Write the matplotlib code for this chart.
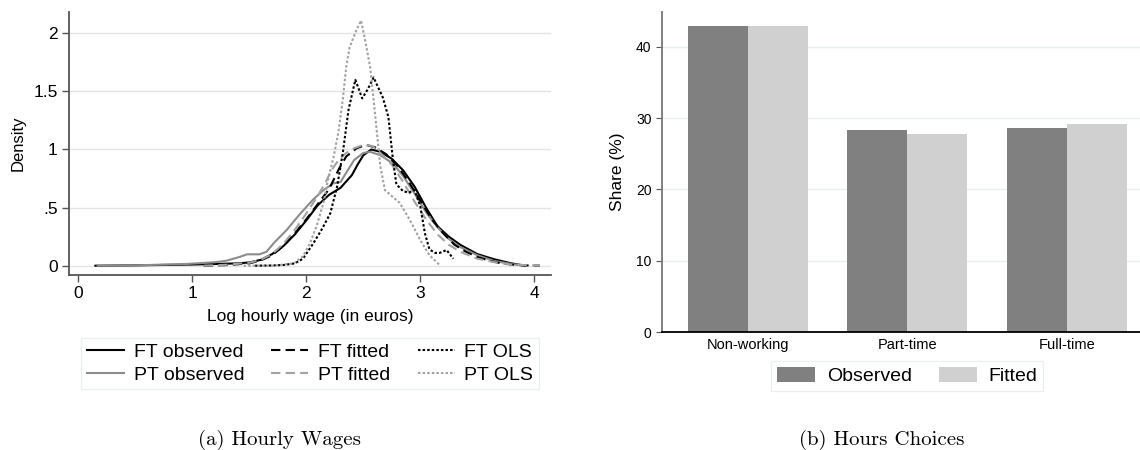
import matplotlib
matplotlib.use("Agg")
import matplotlib.pyplot as plt
import numpy as np

plt.rcParams['font.family'] = ['Liberation Sans', 'DejaVu Sans']

# --- (a) density of log hourly wages ---
ft_obs_x = [0.15, 0.5, 1.0, 1.2, 1.4, 1.5, 1.6, 1.7, 1.8, 1.9, 2.0, 2.1, 2.2, 2.3, 2.4, 2.45,
            2.5, 2.57, 2.65, 2.75, 2.85, 2.95, 3.05, 3.15, 3.25, 3.35, 3.5, 3.65, 3.8, 3.92]
ft_obs_y = [0.0, 0.003, 0.01, 0.015, 0.02, 0.028, 0.05, 0.1, 0.17, 0.27, 0.39, 0.52, 0.61, 0.67, 0.78, 0.87,
            0.95, 1.0, 0.98, 0.92, 0.82, 0.68, 0.5, 0.34, 0.25, 0.18, 0.1, 0.055, 0.02, 0.0]

pt_obs_x = [0.17, 0.5, 0.95, 1.2, 1.3, 1.42, 1.48, 1.59, 1.65, 1.72, 1.83, 1.94, 2.06, 2.15, 2.24, 2.3,
            2.35, 2.42, 2.5, 2.56, 2.65, 2.76, 2.85, 2.95, 3.05, 3.15, 3.25, 3.35, 3.5, 3.65, 3.8, 3.92]
pt_obs_y = [0.0, 0.003, 0.015, 0.03, 0.043, 0.077, 0.098, 0.098, 0.12, 0.2, 0.31, 0.44, 0.57, 0.65, 0.71, 0.72,
            0.8, 0.91, 0.97, 0.98, 0.95, 0.88, 0.77, 0.62, 0.46, 0.33, 0.23, 0.16, 0.09, 0.04, 0.015, 0.0]

ft_fit_x = [1.1, 1.3, 1.5, 1.6, 1.7, 1.8, 1.9, 2.0, 2.1, 2.2, 2.29, 2.35, 2.44, 2.52, 2.6, 2.7,
            2.8, 2.9, 3.0, 3.1, 3.2, 3.3, 3.4, 3.5, 3.6, 3.7, 3.8, 3.9, 4.05]
ft_fit_y = [0.0, 0.005, 0.02, 0.045, 0.09, 0.17, 0.28, 0.40, 0.53, 0.66, 0.84, 0.94, 1.01, 1.04, 1.02, 0.96,
            0.86, 0.72, 0.56, 0.4, 0.28, 0.18, 0.12, 0.075, 0.045, 0.022, 0.01, 0.003, 0.0]

pt_fit_x = [1.1, 1.3, 1.5, 1.6, 1.7, 1.8, 1.9, 2.0, 2.1, 2.17, 2.22, 2.29, 2.35, 2.42, 2.5, 2.58,
            2.65, 2.75, 2.85, 2.95, 3.05, 3.15, 3.25, 3.35, 3.5, 3.65, 3.8, 4.05]
pt_fit_y = [0.0, 0.008, 0.025, 0.05, 0.1, 0.19, 0.31, 0.45, 0.6, 0.72, 0.82, 0.92, 0.97, 1.01, 1.04, 1.03,
            0.97, 0.87, 0.72, 0.55, 0.4, 0.27, 0.18, 0.12, 0.06, 0.03, 0.01, 0.0]

ft_ols_x = [1.55, 1.7, 1.8, 1.9, 1.97, 2.06, 2.14, 2.21, 2.27, 2.32, 2.37, 2.43, 2.49, 2.54, 2.59,
            2.67, 2.72, 2.76, 2.79, 2.85, 2.9, 2.95, 3.0, 3.04, 3.08, 3.13, 3.17, 3.23, 3.29]
ft_ols_y = [0.0, 0.002, 0.006, 0.02, 0.06, 0.19, 0.32, 0.45, 0.68, 0.97, 1.34, 1.6, 1.44, 1.52, 1.62,
            1.45, 1.28, 0.91, 0.7, 0.64, 0.63, 0.65, 0.51, 0.28, 0.14, 0.11, 0.11, 0.135, 0.06]

pt_ols_x = [1.45, 1.71, 1.89, 1.97, 2.03, 2.09, 2.15, 2.19, 2.24, 2.28, 2.32, 2.35, 2.38, 2.44, 2.48,
            2.51, 2.56, 2.59, 2.62, 2.65, 2.69, 2.76, 2.82, 2.91, 3.0, 3.08, 3.17]
pt_ols_y = [0.0, 0.0, 0.02, 0.08, 0.19, 0.34, 0.54, 0.74, 0.94, 1.14, 1.43, 1.71, 1.88, 2.03, 2.11,
            1.97, 1.71, 1.43, 1.14, 0.85, 0.65, 0.59, 0.54, 0.39, 0.22, 0.09, 0.006]

# --- (b) hours choices ---
categories = ["Non-working", "Part-time", "Full-time"]
observed = [42.9, 28.3, 28.6]
fitted = [42.9, 27.8, 29.2]

fig = plt.figure(figsize=(11.4, 4.5), dpi=100)

ax1 = fig.add_axes([0.0605, 0.3889, 0.4228, 0.5844])
ax1.plot(ft_obs_x, ft_obs_y, color="black", lw=1.5, label="FT observed")
ax1.plot(pt_obs_x, pt_obs_y, color="#8c8c8c", lw=1.5, label="PT observed")
ax1.plot(ft_fit_x, ft_fit_y, color="black", lw=1.5, dashes=(4.5, 2.5), label="FT fitted")
ax1.plot(pt_fit_x, pt_fit_y, color="#a2a2a2", lw=1.5, dashes=(4.5, 2.5), label="PT fitted")
ax1.plot(ft_ols_x, ft_ols_y, color="black", lw=1.5, dashes=(1.2, 1.0), label="FT OLS")
ax1.plot(pt_ols_x, pt_ols_y, color="#a2a2a2", lw=1.5, dashes=(1.2, 1.0), label="PT OLS")

ax1.set_xlim(-0.082, 4.146)
ax1.set_ylim(-0.08, 2.183)
ax1.set_xticks([0, 1, 2, 3, 4])
ax1.set_yticks([0, 0.5, 1, 1.5, 2], ["0", ".5", "1", "1.5", "2"])
ax1.grid(axis="y", color="#e4e4e4", lw=1)
ax1.set_axisbelow(True)
ax1.set_xlabel("Log hourly wage (in euros)", fontsize=12.5, labelpad=6)
ax1.set_ylabel("Density", fontsize=12, labelpad=6)
for s in ["top", "right"]:
    ax1.spines[s].set_visible(False)
for s in ["left", "bottom"]:
    ax1.spines[s].set_color("#555555")
    ax1.spines[s].set_linewidth(1.3)
ax1.tick_params(labelsize=12.5, length=5, width=1, color="#555555", pad=3)

h, l = ax1.get_legend_handles_labels()
leg1 = fig.legend(h, l, ncol=3, loc="center", bbox_to_anchor=(0.272, 0.192), fontsize=14,
                  frameon=True, fancybox=False, edgecolor="#e6ecec", handlelength=1.9,
                  handletextpad=0.5, columnspacing=1.4, labelspacing=0.25, borderpad=0.3)
leg1.get_frame().set_linewidth(1)

ax2 = fig.add_axes([0.5807, 0.2622, 0.4193, 0.7111])
pos = np.arange(len(categories))
w = 0.376
ax2.bar(pos - w / 2, observed, width=w, color="#808080", label="Observed")
ax2.bar(pos + w / 2, fitted, width=w, color="#d0d0d0", label="Fitted")
ax2.set_xlim(-0.539, 2.458)
ax2.set_ylim(0, 44.9)
ax2.set_yticks([0, 10, 20, 30, 40])
ax2.set_xticks(pos, categories)
ax2.grid(axis="y", color="#e8eeee", lw=1)
ax2.set_axisbelow(True)
ax2.set_ylabel("Share (%)", fontsize=12.5, labelpad=8)
for s in ["top", "right"]:
    ax2.spines[s].set_visible(False)
ax2.spines["left"].set_color("#777777")
ax2.spines["left"].set_linewidth(1.3)
ax2.spines["bottom"].set_color("black")
ax2.spines["bottom"].set_linewidth(1.3)
ax2.tick_params(axis="y", labelsize=10, length=4, color="#555555")
ax2.tick_params(axis="x", labelsize=10.5, length=0, pad=4)

h2, l2 = ax2.get_legend_handles_labels()
leg2 = fig.legend(h2, l2, ncol=2, loc="center", bbox_to_anchor=(0.796, 0.164), fontsize=14,
                  frameon=True, fancybox=False, edgecolor="#e6ecec", handlelength=1.95,
                  handleheight=0.85, handletextpad=0.6, columnspacing=1.4, borderpad=0.3)
leg2.get_frame().set_linewidth(1)

fig.text(0.2456, 0.022, "(a) Hourly Wages", fontfamily="cmr10", fontsize=15, ha="center", va="center")
fig.text(0.7737, 0.022, "(b) Hours Choices", fontfamily="cmr10", fontsize=15, ha="center", va="center")

fig.savefig("out.png", dpi=100)
